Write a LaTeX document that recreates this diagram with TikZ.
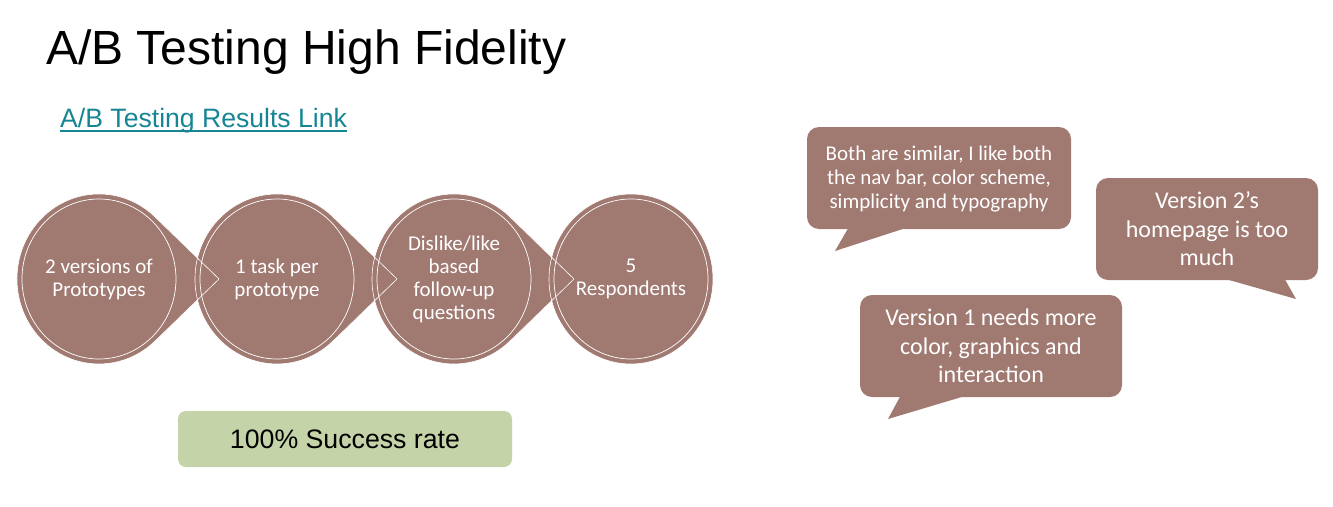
\documentclass[tikz,border=0pt]{standalone}
\usepackage{fontspec}
\setmainfont{Liberation Sans}
\newfontfamily\calibri{Carlito}
\usetikzlibrary{calc}
\definecolor{stepbrown}{RGB}{160,121,113}
\definecolor{ratebg}{RGB}{197,212,168}
\definecolor{linkteal}{RGB}{22,133,148}
% circle with a pointer to the right, centred on #1
\newcommand{\pointshape}[1]{($(#1)+(55.9,62.2)$) -- ($(#1)+(120,0)$) -- ($(#1)+(55.9,-62.2)$)
  arc[start angle=-47, end angle=-313, x radius=82, y radius=85] -- cycle}
\begin{document}
\begin{tikzpicture}[x=1pt,y=-1pt,
  stepfill/.style={fill=stepbrown},
  stepline/.style={draw=white, line width=0.6pt},
  ring/.style={draw=white, line width=0.7pt},
  steptext/.style={text=white, align=center, font=\calibri\fontsize{21}{23}\selectfont},
  bubble/.style={fill=stepbrown, rounded corners=12pt},
  bubbletext/.style={text=white, align=center, font=\calibri\fontsize{24}{28.5}\selectfont},
  ratebox/.style={fill=ratebg, rounded corners=8pt, minimum width=334pt, minimum height=56pt,
    font=\fontsize{26.7}{31}\selectfont}]
\useasboundingbox[fill=white] (0,0) rectangle (1333,506);
% title and link
\node[anchor=base west, inner sep=0, font=\fontsize{48}{56}\selectfont] (title) at (46,64) {A/B Testing High Fidelity};
\node[anchor=base west, inner sep=0, text=linkteal, font=\fontsize{26.6}{31}\selectfont] (link) at (60,127) {A/B Testing Results Link};
\draw[linkteal, line width=1.3pt] ($(link.base west)+(0,4)$) -- ($(link.base east)+(0,4)$);
% centres of the four steps
\coordinate (p1) at (99,279);
\coordinate (p2) at (277,279);
\coordinate (p3) at (454,279);
\coordinate (p4) at (631,279);
% fills first, white outlines on top of all of them
\fill[stepfill] \pointshape{p1};
\fill[stepfill] \pointshape{p2};
\fill[stepfill] \pointshape{p3};
\fill[stepfill] (p4) ellipse[x radius=82, y radius=85];
\draw[stepline] \pointshape{p1};
\draw[stepline] \pointshape{p2};
\draw[stepline] \pointshape{p3};
\draw[stepline] (p4) ellipse[x radius=82, y radius=85];
\draw[ring] (p1) ellipse[x radius=77, y radius=80];
\draw[ring] (p2) ellipse[x radius=77, y radius=80];
\draw[ring] (p3) ellipse[x radius=77, y radius=80];
\draw[ring] (p4) ellipse[x radius=77, y radius=80];
\node[steptext] (s1) at (p1) {2 versions of\\Prototypes};
\node[steptext] (s2) at (p2) {1 task per\\prototype};
\node[steptext] (s3) at (p3) {Dislike/like\\based\\follow-up\\questions};
\node[steptext] (s4) at (p4) {5\\Respondents};
% result
\node[ratebox] (rate) at (345,439) {100\% Success rate};
% speech bubbles
\fill[bubble] (807,127) rectangle (1071,229);
\fill[stepbrown] (850,225) -- (835,251) -- (915,225) -- cycle;
\node[bubbletext, font=\calibri\fontsize{21}{24}\selectfont] (b1) at (939,179) {Both are similar, I like both\\the nav bar, color scheme,\\simplicity and typography};
\fill[bubble] (1096,178) rectangle (1318,280);
\fill[stepbrown] (1215,276) -- (1296,299) -- (1283,276) -- cycle;
\node[bubbletext] (b2) at (1207,229) {Version 2’s\\homepage is too\\much};
\fill[bubble] (860,295) rectangle (1122,397);
\fill[stepbrown] (902,393) -- (888,419) -- (975,393) -- cycle;
\node[bubbletext] (b3) at (991,346) {Version 1 needs more\\color, graphics and\\interaction};
\end{tikzpicture}
\end{document}
